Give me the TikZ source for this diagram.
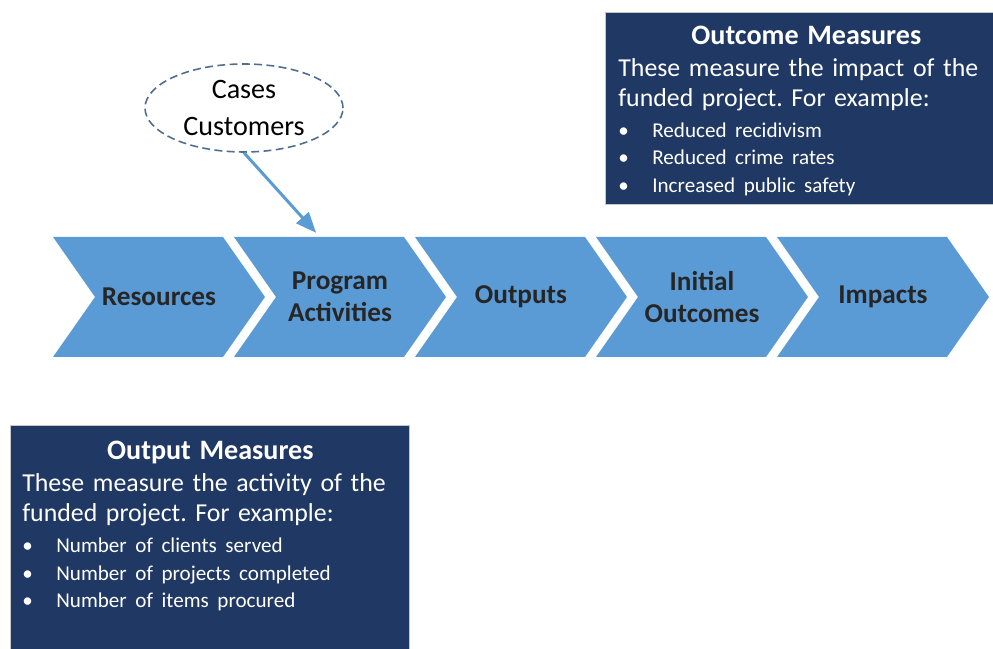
\documentclass[tikz,border=0pt]{standalone}
\usepackage{fontspec}
\setmainfont{Carlito}[WordSpace=0.8]
\usetikzlibrary{arrows,positioning,shapes.geometric,shapes.symbols,matrix}

\definecolor{chevblue}{HTML}{5B9BD5}
\definecolor{navy}{HTML}{203864}
\definecolor{dashgray}{HTML}{4F6D8C}
\definecolor{labelgray}{HTML}{262626}
\setlength{\parindent}{0pt}
\frenchspacing
\newcommand{\bul}{\makebox[0.68cm][l]{\textbullet}}

\begin{document}
\begin{tikzpicture}[stage/.style={signal,signal to=east,signal from=west,signal pointer angle=110,fill=chevblue,minimum width=4.24cm,minimum height=2.4cm,inner sep=0pt,align=center,text=labelgray,font=\fontsize{15.5}{18}\selectfont\bfseries},
measbox/.style={rectangle,fill=navy,draw=gray!45,line width=0.6pt,anchor=north west,inner sep=0pt},
meastext/.style={anchor=north west,inner sep=0pt,text width=7.52cm,align=left,text=white,font=\fontsize{14.7}{17.2}\selectfont},
bubble/.style={ellipse,draw=dashgray,line width=0.9pt,dash pattern=on 4.5pt off 2.5pt,inner sep=0pt,minimum width=3.96cm,minimum height=1.76cm,align=center,font=\fontsize{16}{21}\selectfont},
feed/.style={draw=chevblue,line width=1.7pt,-triangle 45}]

\useasboundingbox (0,0) rectangle (19.86,12.96);

\matrix[column sep=-0.62cm] at (10.42,7.02)
{
\node(res)[stage]{Resources}; \pgfmatrixnextcell \node(act)[stage]{Program\\Activities}; \pgfmatrixnextcell \node(outp)[stage]{Outputs}; \pgfmatrixnextcell \node(init)[stage]{Initial\\Outcomes}; \pgfmatrixnextcell \node(imp)[stage]{Impacts};\\
};

\node(cases)[bubble] at (4.88,10.8) {Cases\\Customers};
\draw [feed] (cases.south) -- ([xshift=-0.48cm,yshift=0.08cm]act.north);

\node(outcome)[measbox,minimum width=7.76cm,minimum height=3.84cm] at (12.10,12.72) {};
\node(outcometext)[meastext] at ([xshift=0.26cm,yshift=-0.27cm]outcome.north west) {%
{\centering\fontsize{16}{19}\selectfont\bfseries Outcome Measures\par}\vspace{1pt}
These measure the impact of the\\ funded project. For example:\par\vspace{2pt}
{\fontsize{12}{15.6}\selectfont\bul Reduced recidivism\\ \bul Reduced crime rates\\ \bul Increased public safety\par}};

\node(output)[measbox,minimum width=7.98cm,minimum height=4.8cm] at (0.20,4.46) {};
\node(outputtext)[meastext] at ([xshift=0.24cm,yshift=-0.32cm]output.north west) {%
{\centering\fontsize{16}{19}\selectfont\bfseries Output Measures\par}\vspace{1pt}
These measure the activity of the\\ funded project. For example:\par\vspace{2pt}
{\fontsize{12}{15.6}\selectfont\bul Number of clients served\\ \bul Number of projects completed\\ \bul Number of items procured\par}};
\end{tikzpicture}
\end{document}
